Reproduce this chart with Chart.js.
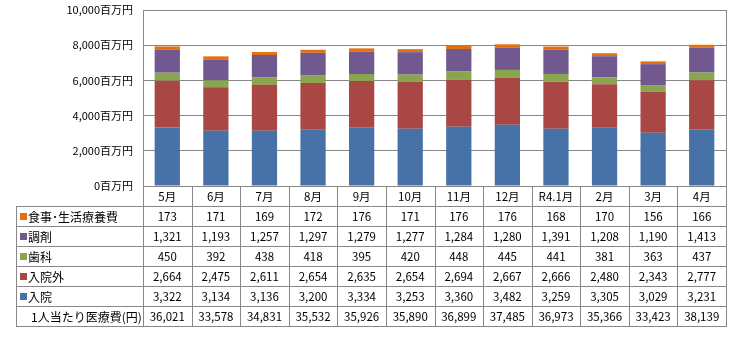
<!DOCTYPE html>
<html lang="ja">
<head>
  <meta charset="UTF-8">
  <title>医療費の推移</title>
  <script src="https://cdn.jsdelivr.net/npm/chart.js"></script>
  <style>
    html, body { margin: 0; padding: 0; background: #fff; }
    #wrap { width: 734px; height: 341px; }
  </style>
</head>
<body>
  <div id="wrap"><canvas id="chartCanvas" width="734" height="341"></canvas></div>

  <script>
    // month labels
    const months = ['5月', '6月', '7月', '8月', '9月', '10月', '11月', '12月', 'R4.1月', '2月', '3月', '4月'];

    // series values (百万円)
    const nyuin    = [3322, 3134, 3136, 3200, 3334, 3253, 3360, 3482, 3259, 3305, 3029, 3231];
    const nyuingai = [2664, 2475, 2611, 2654, 2635, 2654, 2694, 2667, 2666, 2480, 2343, 2777];
    const shika    = [450, 392, 438, 418, 395, 420, 448, 445, 441, 381, 363, 437];
    const chozai   = [1321, 1193, 1257, 1297, 1279, 1277, 1284, 1280, 1391, 1208, 1190, 1413];
    const shokuji  = [173, 171, 169, 172, 176, 171, 176, 176, 168, 170, 156, 166];

    // per-person cost (円), only shown in the table
    const perPerson = [36021, 33578, 34831, 35532, 35926, 35890, 36899, 37485, 36973, 35366, 33423, 38139];

    // y-axis ticks
    const yTicks = [0, 2000, 4000, 6000, 8000, 10000];

    const FONT = '"Noto Sans CJK JP", "Liberation Sans", sans-serif';
    const LINE = '#878787';

    // series, bottom of stack first
    const series = [
      { label: '入院', data: nyuin, color: '#4672A7' },
      { label: '入院外', data: nyuingai, color: '#A94744' },
      { label: '歯科', data: shika, color: '#89A54E' },
      { label: '調剤', data: chozai, color: '#71598F' },
      { label: '食事･生活療養費', data: shokuji, color: '#E3700D' }
    ];

    function fmt(v) {
      return v.toLocaleString('en-US');
    }

    // draws the plot frame and the data table under the bars
    const tablePlugin = {
      id: 'dataTable',
      afterDraw(chart) {
        const ctx = chart.ctx;
        const area = chart.chartArea;
        const x = chart.scales.x;
        const n = months.length;
        const colW = (area.right - area.left) / n;
        const rowH = 20;
        const tableLeft = 16;
        const top = area.bottom;
        // table rows top to bottom
        const rows = series.slice().reverse().map(s => ({ label: s.label, color: s.color, values: s.data }));
        rows.push({ label: '1人当たり医療費(円)', color: null, values: perPerson });
        const bottom = top + rowH * (rows.length + 1);

        ctx.save();
        ctx.strokeStyle = LINE;
        ctx.lineWidth = 1;

        // plot border
        ctx.strokeRect(area.left + 0.5, area.top + 0.5, area.right - area.left, area.bottom - area.top);

        ctx.beginPath();
        // horizontal lines
        for (let r = 1; r <= rows.length + 1; r++) {
          const y = Math.round(top + r * rowH) + 0.5;
          ctx.moveTo(tableLeft, y);
          ctx.lineTo(area.right + 1, y);
        }
        // vertical lines
        for (let i = 0; i <= n; i++) {
          const xx = Math.round(area.left + i * colW) + 0.5;
          ctx.moveTo(xx, top);
          ctx.lineTo(xx, bottom + 0.5);
        }
        ctx.moveTo(tableLeft + 0.5, top + rowH);
        ctx.lineTo(tableLeft + 0.5, bottom + 0.5);
        ctx.stroke();

        // header labels
        ctx.fillStyle = '#000';
        ctx.font = '11.5px ' + FONT;
        ctx.textAlign = 'center';
        ctx.textBaseline = 'middle';
        months.forEach((m, i) => {
          ctx.fillText(m, x.getPixelForValue(i), top + rowH / 2 + 1);
        });

        // body rows
        rows.forEach((row, r) => {
          const cy = top + rowH * (r + 1) + rowH / 2 + 1;
          ctx.textAlign = 'left';
          ctx.font = '12px ' + FONT;
          if (row.color) {
            ctx.fillStyle = row.color;
            ctx.fillRect(tableLeft + 4, cy - 4, 7, 7);
            ctx.fillStyle = '#000';
            ctx.fillText(row.label, tableLeft + 12, cy);
          } else {
            ctx.fillStyle = '#000';
            ctx.fillText(row.label, tableLeft + 15, cy);
          }
          ctx.font = '11.5px ' + FONT;
          ctx.textAlign = 'center';
          row.values.forEach((v, i) => {
            ctx.fillText(fmt(v), x.getPixelForValue(i), cy);
          });
        });
        ctx.restore();
      }
    };

    new Chart(document.getElementById('chartCanvas'), {
      type: 'bar',
      data: {
        labels: months,
        datasets: series.map(s => ({
          label: s.label,
          data: s.data,
          backgroundColor: s.color,
          borderWidth: 0,
          barPercentage: 0.52,
          categoryPercentage: 1
        }))
      },
      options: {
        responsive: false,
        animation: false,
        layout: { padding: { top: 10, right: 8, bottom: 155, left: 0 } },
        plugins: {
          legend: { display: false },
          tooltip: { enabled: false }
        },
        scales: {
          x: {
            display: false,
            stacked: true
          },
          y: {
            stacked: true,
            min: 0,
            max: 10000,
            afterFit(scale) {
              scale.width = 143;
              scale.paddingTop = 0;
              scale.paddingBottom = 0;
            },
            afterBuildTicks(scale) { scale.ticks = yTicks.map(v => ({ value: v })); },
            ticks: {
              padding: 10,
              color: '#000',
              font: { family: FONT, size: 11 },
              callback: v => fmt(v) + '百万円'
            },
            grid: { color: LINE, drawTicks: false },
            border: { display: false }
          }
        }
      },
      plugins: [tablePlugin]
    });
  </script>
</body>
</html>
